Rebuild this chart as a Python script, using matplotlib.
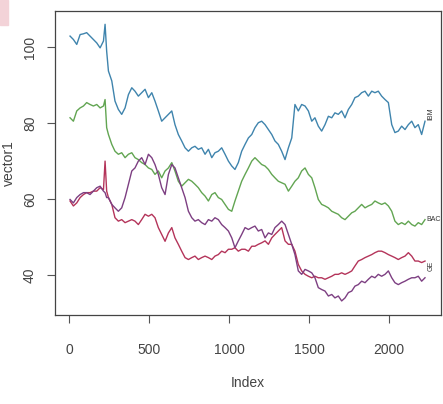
import matplotlib
matplotlib.use("Agg")
import matplotlib.pyplot as plt
from matplotlib import font_manager
from matplotlib.patches import Rectangle

# narrow sans if available, otherwise plain Liberation Sans
names = {f.name for f in font_manager.fontManager.ttflist}
family = "Liberation Sans Narrow" if "Liberation Sans Narrow" in names else "Liberation Sans"
plt.rcParams["font.family"] = [family, "DejaVu Sans"]

# --------------------------------------------------
# series values (sampled along the index)
# --------------------------------------------------
index = [6, 27, 48, 69, 90, 110, 131, 152, 173, 194, 215, 225, 235, 246,
         267, 287, 308, 329, 350, 371, 392, 412, 433, 454,
         475, 496, 517, 537, 558, 579, 600, 621, 642, 662,
         683, 704, 725, 746, 767, 787, 808, 829, 850, 871,
         892, 912, 933, 954, 975, 996, 1017, 1037, 1058, 1079,
         1100, 1121, 1142, 1162, 1183, 1204, 1225, 1246, 1267, 1287,
         1308, 1329, 1350, 1371, 1392, 1412, 1433, 1454, 1475, 1496,
         1517, 1537, 1558, 1579, 1600, 1621, 1642, 1662, 1683, 1704,
         1725, 1746, 1767, 1787, 1808, 1829, 1850, 1871, 1892, 1912,
         1933, 1954, 1975, 1996, 2017, 2037, 2058, 2079, 2100, 2121,
         2142, 2162, 2183, 2204, 2225]

blue = [102.9, 102.0, 100.7, 103.3, 103.5, 103.8, 102.9, 102.0, 101.1, 99.8, 101.6, 106.0, 98.9, 93.7,
        91.1, 85.8, 83.6, 82.3, 84.0, 87.5, 89.3, 88.4, 87.1, 88.0,
        88.9, 86.7, 88.0, 85.8, 83.2, 80.5, 81.4, 82.3, 83.2, 79.6,
        77.0, 75.3, 73.5, 72.6, 73.5, 73.9, 73.1, 73.5, 71.8, 73.1,
        70.9, 72.2, 72.6, 73.5, 71.8, 70.0, 68.7, 67.8, 69.6, 72.6,
        74.4, 76.1, 77.0, 78.8, 80.1, 80.5, 79.6, 78.3, 77.0, 75.3,
        74.4, 72.6, 70.4, 73.5, 76.1, 84.9, 83.2, 84.9, 84.5, 83.2,
        80.5, 81.4, 79.2, 77.9, 79.6, 81.8, 81.4, 82.7, 82.3, 83.2,
        81.4, 83.6, 84.9, 86.7, 87.1, 88.0, 88.4, 87.1, 88.4, 88.0,
        88.4, 87.1, 86.2, 85.4, 79.6, 77.5, 77.9, 79.2, 78.3, 79.6,
        80.5, 78.8, 79.6, 77.0, 80.5]

green = [81.4, 80.5, 83.2, 84.0, 84.5, 85.4, 84.9, 84.5, 84.9, 84.0, 84.5, 86.2, 78.8, 77.0,
         74.4, 72.6, 71.8, 72.2, 70.9, 71.8, 72.2, 70.9, 70.4, 69.6,
         69.1, 68.2, 67.8, 66.5, 67.4, 65.6, 67.4, 68.2, 69.6, 67.4,
         64.7, 63.4, 64.3, 65.2, 64.7, 63.9, 63.0, 61.7, 60.8, 59.5,
         61.2, 61.7, 60.4, 59.9, 58.6, 57.3, 56.8, 59.5, 62.1, 64.7,
         66.5, 68.2, 70.0, 70.9, 70.0, 69.1, 68.7, 67.8, 66.5, 65.6,
         64.7, 64.3, 63.9, 62.1, 63.4, 64.7, 65.6, 67.4, 68.2, 66.5,
         65.6, 63.0, 59.9, 58.6, 58.2, 57.7, 56.8, 56.4, 56.0, 55.1,
         54.6, 55.5, 56.4, 56.8, 57.7, 58.6, 57.7, 58.2, 58.6, 59.5,
         59.0, 58.6, 59.0, 58.2, 56.8, 54.2, 53.3, 53.8, 53.3, 54.2,
         53.3, 52.9, 53.8, 53.3, 54.6]

red = [59.5, 58.2, 59.0, 60.4, 61.2, 61.7, 61.7, 62.1, 62.1, 63.0, 62.5, 70.0, 62.1, 60.4,
       58.6, 55.1, 54.2, 54.6, 53.8, 54.2, 54.6, 54.2, 53.3, 54.6,
       56.0, 55.5, 56.0, 55.1, 52.5, 50.7, 48.9, 51.1, 52.5, 49.8,
       48.1, 46.3, 44.6, 44.1, 44.6, 45.0, 44.1, 44.6, 45.0, 44.6,
       44.1, 45.0, 45.4, 46.3, 45.9, 46.8, 46.8, 47.2, 46.3, 46.8,
       46.8, 46.3, 47.6, 47.6, 48.1, 48.5, 49.0, 48.1, 49.8, 50.7,
       51.6, 52.5, 49.0, 48.1, 48.1, 46.3, 42.8, 41.1, 40.2, 39.7,
       39.3, 39.7, 39.3, 39.3, 38.9, 39.3, 39.7, 40.2, 40.2, 40.6,
       40.2, 40.6, 41.1, 42.4, 43.7, 44.1, 44.6, 45.0, 45.4, 45.9,
       46.3, 46.3, 45.9, 45.4, 45.0, 44.6, 44.1, 44.6, 45.0, 45.9,
       45.0, 43.7, 43.7, 43.3, 43.7]

purple = [59.9, 59.0, 60.4, 61.2, 61.7, 61.7, 61.2, 62.1, 63.0, 63.4, 62.1, 61.7, 60.4, 60.4,
          58.6, 57.7, 56.8, 57.7, 60.4, 63.9, 67.4, 68.2, 70.0, 70.9,
          69.1, 71.8, 70.9, 69.1, 66.5, 63.0, 61.2, 66.5, 69.1, 68.2,
          65.6, 63.0, 60.4, 56.8, 55.1, 54.2, 54.6, 53.8, 53.3, 54.6,
          54.2, 55.1, 54.6, 53.3, 52.5, 51.6, 49.8, 47.2, 49.0, 50.7,
          52.5, 52.0, 52.5, 52.9, 51.6, 52.0, 49.8, 51.1, 50.7, 52.5,
          53.3, 54.2, 53.3, 50.7, 48.1, 45.4, 41.1, 40.2, 41.5, 41.1,
          40.6, 39.3, 36.7, 36.2, 35.8, 34.5, 34.9, 34.0, 34.5, 33.2,
          34.0, 35.4, 35.8, 37.1, 37.5, 38.4, 38.0, 38.9, 39.7, 39.3,
          40.2, 39.7, 40.2, 41.1, 39.3, 38.0, 37.5, 38.0, 38.4, 38.9,
          39.3, 39.3, 39.7, 38.4, 39.3]

end_labels = ["IBM", "BAC", "GE"]
x_ticks = [0, 500, 1000, 1500, 2000]
y_ticks = [40, 60, 80, 100]

# --------------------------------------------------
# plot
# --------------------------------------------------
fig = plt.figure(figsize=(4.43, 4.04), dpi=100)
ax = fig.add_axes([55 / 443, 89 / 404, 386 / 443, 304 / 404])

ax.plot(index, blue, color="#3f84ad", lw=1.0)
ax.plot(index, green, color="#62a552", lw=1.0)
ax.plot(index, red, color="#b4345a", lw=1.0)
ax.plot(index, purple, color="#7d3f82", lw=1.0)

# short names at the right end of the series
ax.text(index[-1] + 15, blue[-1] + 2, end_labels[0], fontsize=5, rotation=90,
        va="center", ha="left", color="#333333")
ax.text(index[-1] + 10, green[-1], end_labels[1], fontsize=5,
        va="center", ha="left", color="#333333")
ax.text(index[-1] + 15, (red[-1] + purple[-1]) / 2 + 1, end_labels[2], fontsize=5,
        rotation=90, va="center", ha="left", color="#333333")

ax.set_xlim(-88, 2325)
ax.set_ylim(29.5, 109.5)
ax.set_xticks(x_ticks)
ax.set_yticks(y_ticks)
ax.set_yticklabels([str(v) for v in y_ticks], rotation=90, va="center")

ax.tick_params(axis="both", direction="out", length=6, width=0.8,
               colors="#555555", labelsize=10, labelcolor="#444444")
ax.tick_params(axis="x", pad=14)
ax.tick_params(axis="y", pad=7)
for s in ax.spines.values():
    s.set_color("#444444")
    s.set_linewidth(0.9)

ax.set_xlabel("Index", fontsize=10, color="#444444", labelpad=14)
ax.set_ylabel("vector1", fontsize=10, color="#444444")
ax.yaxis.set_label_coords(-0.10, 0.5)

fig.patches.append(Rectangle((0, 1 - 25 / 404), 8 / 443, 25 / 404,
                             transform=fig.transFigure, color="#f3d3d8", zorder=0))

fig.savefig("out.png", dpi=100)
